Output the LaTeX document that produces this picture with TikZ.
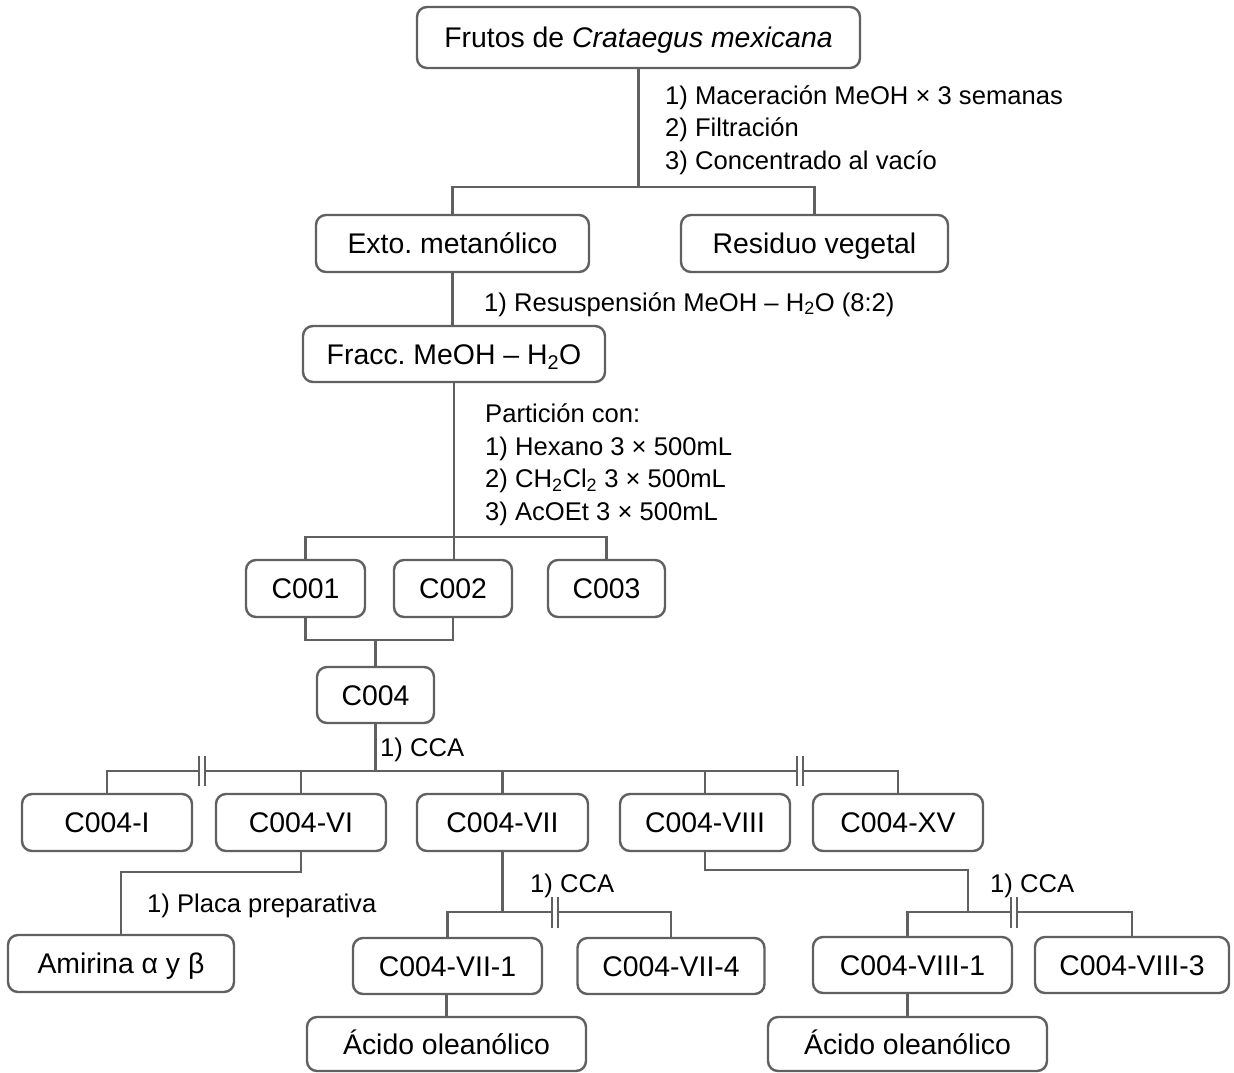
\documentclass[tikz,border=0pt]{standalone}
\usepackage{fontspec}
\setmainfont{Liberation Sans}
\usetikzlibrary{calc}
\definecolor{linegray}{HTML}{606060}
\begin{document}
\frenchspacing
\begin{tikzpicture}[x=1pt,y=-1pt,
  box/.style={draw=linegray, line width=2.4pt, rounded corners=10pt, inner sep=0pt,
    align=center, text height=20.5pt, text depth=0pt,
    font=\fontsize{28.4}{34}\selectfont},
  conn/.style={draw=linegray, line width=2.6pt},
  brk/.style={draw=linegray, line width=2.4pt},
  note/.style={inner sep=0pt, anchor=base west, align=left,
    font=\fontsize{25.6}{32.5}\selectfont}
]
\useasboundingbox[fill=white] (0,0) rectangle (1234,1072);

% boxes
\node[box, minimum width=443pt, minimum height=61pt] (frutos) at (638.5,37.5) {Frutos de \textit{Crataegus mexicana}};
\node[box, minimum width=273pt, minimum height=57pt] (exto) at (452.5,243.5) {Exto. metanólico};
\node[box, minimum width=267pt, minimum height=57pt] (residuo) at (814.5,243.5) {Residuo vegetal};
\node[box, minimum width=302pt, minimum height=56pt] (fracc) at (454,354) {Fracc. MeOH – H\textsubscript{2}O};
\node[box, minimum width=119pt, minimum height=57pt] (c001) at (305.5,588.5) {C001};
\node[box, minimum width=118pt, minimum height=57pt] (c002) at (453,588.5) {C002};
\node[box, minimum width=117pt, minimum height=57pt] (c003) at (606.5,588.5) {C003};
\node[box, minimum width=117pt, minimum height=56pt] (c004) at (375.5,695) {C004};
\node[box, minimum width=170pt, minimum height=57pt] (c4i) at (107,822.5) {C004-I};
\node[box, minimum width=170pt, minimum height=57pt] (c4vi) at (301,822.5) {C004-VI};
\node[box, minimum width=171pt, minimum height=57pt] (c4vii) at (502.5,822.5) {C004-VII};
\node[box, minimum width=170pt, minimum height=57pt] (c4viii) at (705,822.5) {C004-VIII};
\node[box, minimum width=170pt, minimum height=57pt] (c4xv) at (898,822.5) {C004-XV};
\node[box, minimum width=226pt, minimum height=57pt] (amirina) at (121,963.5) {Amirina α y β};
\node[box, minimum width=189pt, minimum height=56pt] (vii1) at (447.5,966) {C004-VII-1};
\node[box, minimum width=187pt, minimum height=56pt] (vii4) at (671,966) {C004-VII-4};
\node[box, minimum width=199pt, minimum height=56pt] (viii1) at (912.5,965) {C004-VIII-1};
\node[box, minimum width=194pt, minimum height=56pt] (viii3) at (1132,965) {C004-VIII-3};
\node[box, minimum width=279pt, minimum height=54pt] (acido1) at (446.5,1044) {Ácido oleanólico};
\node[box, minimum width=279pt, minimum height=54pt] (acido2) at (907.5,1044) {Ácido oleanólico};

% notes (base anchor = baseline of the last line)
\node[note] (n1) at (665,169) {1) Maceración MeOH × 3 semanas\\2) Filtración\\3) Concentrado al vacío};
\node[note] (n2) at (484,311) {1) Resuspensión MeOH – H\textsubscript{2}O (8:2)};
\node[note] (n3) at (485,520) {Partición con:\\1) Hexano 3 × 500mL\\2) CH\textsubscript{2}Cl\textsubscript{2} 3 × 500mL\\3) AcOEt 3 × 500mL};
\node[note] (n4) at (380,756) {1) CCA};
\node[note] (n5) at (530,892) {1) CCA};
\node[note] (n6) at (990,892) {1) CCA};
\node[note] (n7) at (147,912) {1) Placa preparativa};

% junction coordinates
\coordinate (j1) at (frutos.south |- 0,187);
\coordinate (j2) at (fracc.south |- 0,537);
\coordinate (j3) at (c004.north |- 0,640);
\coordinate (j4) at (c004.south |- 0,771);
\coordinate (bL1) at (199,771);
\coordinate (bL2) at (205,771);
\coordinate (bR1) at (797,771);
\coordinate (bR2) at (803,771);
\coordinate (j6) at (c4vi.south |- 0,872);
\coordinate (j7) at (c4vii.south |- 0,912);
\coordinate (b71) at (552,912);
\coordinate (b72) at (558,912);
\coordinate (j8a) at (c4viii.south |- 0,870);
\coordinate (j8b) at (968,870);
\coordinate (j8c) at (968,912);
\coordinate (b81) at (1011,912);
\coordinate (b82) at (1017,912);

% connectors
\draw[conn] (frutos.south) -- (j1);
\draw[conn] (exto.north) |- (j1) -| (residuo.north);
\draw[conn] (exto.south) -- (exto.south |- fracc.north);
\draw[conn] (fracc.south) -- (j2);
\draw[conn] (c001.north) |- (j2) -| (c003.north);
\draw[conn] (j2) -- (j2 |- c002.north);
\draw[conn] (c001.south) |- (j3) -| (c002.south);
\draw[conn] (j3) -- (c004.north);
\draw[conn] (c004.south) -- (j4);
\draw[conn] (c4i.north) |- (bL1);
\draw[conn] (bL2) -- (bR1);
\draw[conn] (bR2) -| (c4xv.north);
\draw[conn] (c4vi.north) -- (c4vi.north |- j4);
\draw[conn] (c4vii.north) -- (c4vii.north |- j4);
\draw[conn] (c4viii.north) -- (c4viii.north |- j4);
\draw[brk] ($(bL1)+(0,-15)$) -- ($(bL1)+(0,15)$);
\draw[brk] ($(bL2)+(0,-15)$) -- ($(bL2)+(0,15)$);
\draw[brk] ($(bR1)+(0,-15)$) -- ($(bR1)+(0,15)$);
\draw[brk] ($(bR2)+(0,-15)$) -- ($(bR2)+(0,15)$);
\draw[conn] (c4vi.south) -- (j6) -| (amirina.north);
\draw[conn] (c4vii.south) -- (j7);
\draw[conn] (vii1.north) |- (b71);
\draw[conn] (b72) -| (vii4.north);
\draw[brk] ($(b71)+(0,-15)$) -- ($(b71)+(0,16)$);
\draw[brk] ($(b72)+(0,-15)$) -- ($(b72)+(0,16)$);
\draw[conn] (c4viii.south) -- (j8a) -- (j8b) -- (j8c);
\draw[conn] (viii1.north -| acido2.north) |- (b81);
\draw[conn] (b82) -| (viii3.north);
\draw[brk] ($(b81)+(0,-15)$) -- ($(b81)+(0,16)$);
\draw[brk] ($(b82)+(0,-15)$) -- ($(b82)+(0,16)$);
\draw[conn] (acido1.north |- vii1.south) -- (acido1.north);
\draw[conn] (acido2.north |- viii1.south) -- (acido2.north);
\end{tikzpicture}
\end{document}
